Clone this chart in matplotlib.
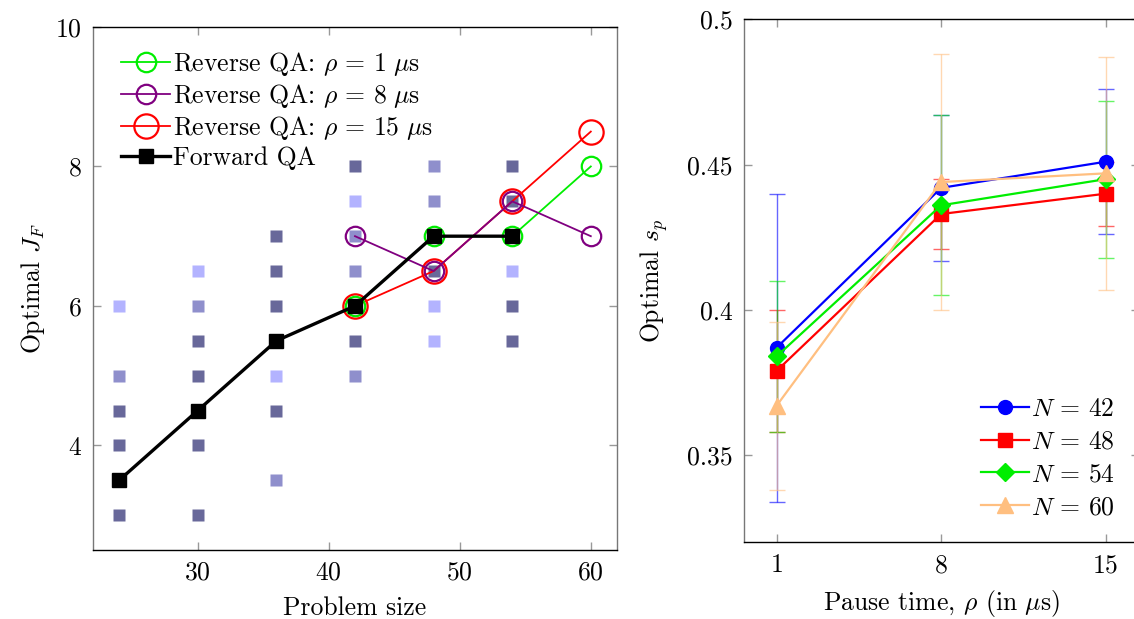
import matplotlib
matplotlib.use("Agg")
import matplotlib.pyplot as plt
import numpy as np

plt.rcParams['font.family'] = ['cmr10', 'DejaVu Serif']
plt.rcParams['mathtext.fontset'] = 'cm'
plt.rcParams['axes.formatter.use_mathtext'] = True
plt.rcParams['font.size'] = 18.5

# left panel: background squares (three shades)
dark_x = [24, 24, 24, 30, 30, 30, 30, 36, 36, 36, 36, 42, 42, 48, 54, 54, 54, 54]
dark_y = [4.5, 4, 3, 5.5, 5, 4, 3, 7, 6.5, 6, 4.5, 8, 5.5, 6.5, 8, 7.5, 6, 5.5]
mid_x = [24, 30, 36, 42, 42, 42, 48, 48]
mid_y = [5, 6, 3.5, 7, 6.5, 5, 8, 7.5]
light_x = [24, 30, 36, 42, 48, 48, 54]
light_y = [6, 6.5, 5, 7.5, 6, 5.5, 6.5]

# left panel: lines
rev_x = [42, 48, 54, 60]
rev_rho1 = [6, 7, 7, 8]
rev_rho8 = [7, 6.5, 7.5, 7]
rev_rho15 = [6, 6.5, 7.5, 8.5]
fwd_x = [24, 30, 36, 42, 48, 54]
fwd_y = [3.5, 4.5, 5.5, 6, 7, 7]

# right panel
rho = [1, 8, 15]
sp_42 = [0.387, 0.442, 0.451]
err_42 = [0.053, 0.025, 0.025]
sp_48 = [0.379, 0.433, 0.440]
err_48 = [0.021, 0.012, 0.011]
sp_54 = [0.384, 0.436, 0.445]
err_54 = [0.026, 0.031, 0.027]
sp_60 = [0.367, 0.444, 0.447]
err_60 = [0.029, 0.044, 0.040]

fig = plt.figure(figsize=(11.34, 6.19), dpi=100)
ax1 = fig.add_axes([0.0820, 0.1115, 0.4621, 0.8449])
ax2 = fig.add_axes([0.6558, 0.1239, 0.3482, 0.8448])

def style_axes(ax):
    ax.tick_params(direction='in', top=True, right=True, length=6,
                   color='#999999', width=1, labelsize=18.5, pad=8)
    for s in ax.spines.values():
        s.set_linewidth(1.0)
    ax.spines['left'].set_color('#777777')
    ax.spines['right'].set_color('#777777')

sq = 8
ax1.plot(dark_x, dark_y, 's', color='#68689a', ms=sq, mec='none', zorder=1)
ax1.plot(mid_x, mid_y, 's', color='#8f8fcc', ms=sq, mec='none', zorder=1)
ax1.plot(light_x, light_y, 's', color='#b3b3ff', ms=sq, mec='none', zorder=1)

ax1.plot(rev_x, rev_rho1, '-o', color='#00ee00', mfc='none', mec='#00ee00',
         ms=14, mew=1.6, lw=1.3, zorder=3, label=r'Reverse QA: $\rho\,=\,1\ \mu$s')
ax1.plot(rev_x, rev_rho8, '-o', color='purple', mfc='none', mec='purple',
         ms=14, mew=1.6, lw=1.3, zorder=3, label=r'Reverse QA: $\rho\,=\,8\ \mu$s')
ax1.plot(rev_x, rev_rho15, '-o', color='red', mfc='none', mec='red',
         ms=17.5, mew=1.6, lw=1.3, zorder=2, label=r'Reverse QA: $\rho\,=\,15\ \mu$s')
ax1.plot(fwd_x, fwd_y, '-s', color='black', ms=10, lw=2.4, zorder=4,
         label='Forward QA')

ax1.set_xlim(22, 62)
ax1.set_ylim(2.5, 10)
ax1.set_xticks([30, 40, 50, 60])
ax1.set_yticks([4, 6, 8, 10])
ax1.set_xlabel('Problem size', labelpad=8)
ax1.set_ylabel(r'Optimal $J_F$', labelpad=6)
style_axes(ax1)
ax1.legend(loc='upper left', frameon=False, handlelength=1.9,
           handletextpad=0.1, labelspacing=0.15, borderaxespad=0.3,
           bbox_to_anchor=(0.02, 0.99))

series = [(sp_42, err_42, 'blue', 'o', 10, r'$N\,=\,42$'),
          (sp_48, err_48, 'red', 's', 10, r'$N\,=\,48$'),
          (sp_54, err_54, '#00ee00', 'D', 9, r'$N\,=\,54$'),
          (sp_60, err_60, '#ffbf80', '^', 12, r'$N\,=\,60$')]
for vals, errs, col, mk, ms, lab in series:
    ax2.errorbar(rho, vals, yerr=errs, fmt='none', ecolor=col, elinewidth=1,
                 capsize=6, capthick=1, alpha=0.6, zorder=2)
    ax2.plot(rho, vals, '-', marker=mk, color=col, ms=ms, lw=1.6, label=lab,
             zorder=3)

ax2.set_xlim(-0.4, 16.4)
ax2.set_ylim(0.32, 0.5)
ax2.set_xticks(rho)
ax2.set_yticks([0.35, 0.4, 0.45, 0.5])
ax2.set_yticklabels(['0.35', '0.4', '0.45', '0.5'])
ax2.set_xlabel(r'Pause time, $\rho$ (in $\mu$s)', labelpad=8)
ax2.set_ylabel(r'Optimal $s_p$', labelpad=12)
style_axes(ax2)
ax2.legend(loc='lower right', frameon=False, handlelength=1.9,
           handletextpad=0.05, labelspacing=0.35, borderaxespad=0.3,
           bbox_to_anchor=(0.985, 0.01))

fig.savefig('out.png', dpi=100)
